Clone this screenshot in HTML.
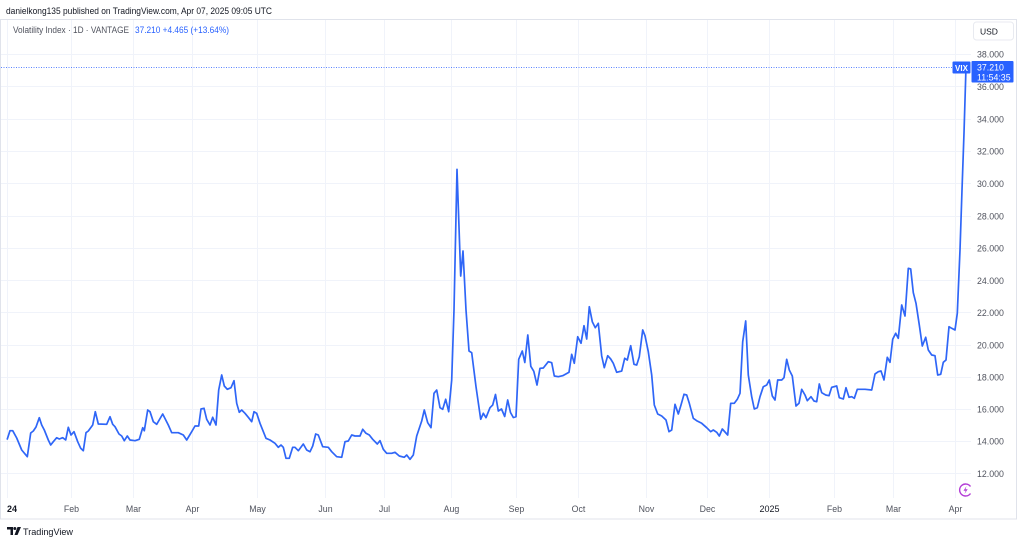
<!DOCTYPE html>
<html>
<head>
<meta charset="utf-8">
<style>
html,body{margin:0;padding:0;background:#fff;}
body{width:1024px;height:544px;overflow:hidden;}
svg{display:block;font-family:"Liberation Sans",sans-serif;}
</style>
</head>
<body>
<svg width="1024" height="544" viewBox="0 0 1024 544" xmlns="http://www.w3.org/2000/svg">
<rect x="0" y="0" width="1024" height="544" fill="#ffffff"/>
<!-- header -->
<text x="6" y="14" font-size="9.5" fill="#131722" textLength="266" lengthAdjust="spacingAndGlyphs">danielkong135 published on TradingView.com, Apr 07, 2025 09:05 UTC</text>
<!-- frame -->
<rect x="0.5" y="19.5" width="1016" height="499.5" fill="none" stroke="#e0e3eb" stroke-width="1"/>
<!-- horizontal grid -->
<g stroke="#f0f3fa" stroke-width="1">
<line x1="1" y1="54.5" x2="971" y2="54.5"/>
<line x1="1" y1="86.5" x2="971" y2="86.5"/>
<line x1="1" y1="119.5" x2="971" y2="119.5"/>
<line x1="1" y1="151.5" x2="971" y2="151.5"/>
<line x1="1" y1="183.5" x2="971" y2="183.5"/>
<line x1="1" y1="216.5" x2="971" y2="216.5"/>
<line x1="1" y1="248.5" x2="971" y2="248.5"/>
<line x1="1" y1="280.5" x2="971" y2="280.5"/>
<line x1="1" y1="312.5" x2="971" y2="312.5"/>
<line x1="1" y1="345.5" x2="971" y2="345.5"/>
<line x1="1" y1="377.5" x2="971" y2="377.5"/>
<line x1="1" y1="409.5" x2="971" y2="409.5"/>
<line x1="1" y1="441.5" x2="971" y2="441.5"/>
<line x1="1" y1="473.5" x2="971" y2="473.5"/>
</g>
<!-- vertical grid -->
<g stroke="#f0f3fa" stroke-width="1">
<line x1="7.5" y1="20" x2="7.5" y2="498"/>
<line x1="71.5" y1="20" x2="71.5" y2="498"/>
<line x1="133.5" y1="20" x2="133.5" y2="498"/>
<line x1="192.5" y1="20" x2="192.5" y2="498"/>
<line x1="257.5" y1="20" x2="257.5" y2="498"/>
<line x1="325.5" y1="20" x2="325.5" y2="498"/>
<line x1="384.5" y1="20" x2="384.5" y2="498"/>
<line x1="451.5" y1="20" x2="451.5" y2="498"/>
<line x1="516.5" y1="20" x2="516.5" y2="498"/>
<line x1="578.5" y1="20" x2="578.5" y2="498"/>
<line x1="646.5" y1="20" x2="646.5" y2="498"/>
<line x1="707.5" y1="20" x2="707.5" y2="498"/>
<line x1="769.5" y1="20" x2="769.5" y2="498"/>
<line x1="834.5" y1="20" x2="834.5" y2="498"/>
<line x1="893.5" y1="20" x2="893.5" y2="498"/>
<line x1="955.5" y1="20" x2="955.5" y2="498"/>
</g>
<!-- legend -->
<text x="13" y="33" font-size="9" fill="#50535e" textLength="116" lengthAdjust="spacingAndGlyphs">Volatility Index · 1D · VANTAGE</text>
<text x="135" y="33" font-size="9" fill="#2962ff" textLength="94" lengthAdjust="spacingAndGlyphs">37.210 +4.465 (+13.64%)</text>
<!-- USD box -->
<rect x="973.5" y="22" width="40" height="18" rx="3" fill="#fff" stroke="#e8eaf0"/>
<text x="980" y="34.5" font-size="8.5" fill="#131722">USD</text>
<!-- y labels -->
<g font-size="8.8" fill="#50535e">
<text x="977" y="57.5">38.000</text>
<text x="977" y="90">36.000</text>
<text x="977" y="122.5">34.000</text>
<text x="977" y="154.5">32.000</text>
<text x="977" y="187">30.000</text>
<text x="977" y="219.5">28.000</text>
<text x="977" y="251.5">26.000</text>
<text x="977" y="284">24.000</text>
<text x="977" y="316">22.000</text>
<text x="977" y="348.5">20.000</text>
<text x="977" y="380.5">18.000</text>
<text x="977" y="412.5">16.000</text>
<text x="977" y="444.5">14.000</text>
<text x="977" y="477">12.000</text>
</g>
<!-- x labels -->
<g font-size="8.8" fill="#50535e" text-anchor="middle">
<text x="71.5" y="512">Feb</text>
<text x="133.5" y="512">Mar</text>
<text x="192.5" y="512">Apr</text>
<text x="257.5" y="512">May</text>
<text x="325.5" y="512">Jun</text>
<text x="384.5" y="512">Jul</text>
<text x="451.5" y="512">Aug</text>
<text x="516.5" y="512">Sep</text>
<text x="578.5" y="512">Oct</text>
<text x="646.5" y="512">Nov</text>
<text x="707.5" y="512">Dec</text>
<text x="834.5" y="512">Feb</text>
<text x="893.5" y="512">Mar</text>
<text x="955.5" y="512">Apr</text>
</g>
<text x="7" y="512" font-size="9" fill="#131722" font-weight="bold">24</text>
<text x="769.5" y="512" font-size="9" fill="#131722" text-anchor="middle">2025</text>
<!-- dotted price line -->
<line x1="1" y1="67.5" x2="953" y2="67.5" stroke="#5b84ff" stroke-width="1" stroke-dasharray="1,1.5"/>
<!-- series -->
<polyline fill="none" stroke="#2f66f7" stroke-width="1.7" stroke-linejoin="round" stroke-linecap="round" points="
7.3,439 10,430.7 12.7,430.7 16.7,438 21.7,450 27.3,456.7 30.7,433 33.3,431 36,427 39.3,417.7 41.7,425 44.3,430 48.3,440 50.7,445 53.3,441.7 56.7,437.7 59.3,439 62.7,437.7 65.7,440 68.3,427.3 71,435 74,431.7 77.7,441.7 80.7,448.3 83.3,450.7 86,432.7 88.3,431 92.7,425 95.3,411.7 98.3,424 106.7,424.3 110,416.7 112.7,424.3 115,426.7 119,434 121.7,436 124.3,440.7 127.3,436 130,440 135,440.7 139.3,439.3 142.7,427.7 144.3,430.7 147.7,410 150,411.7 153.3,421.7 156.7,424.3 162.7,414 168.3,425 171.7,432.7 178.3,432.7 183.3,435 186.7,440 191.7,431.7 195,426 198.7,426 201,409 204,408.3 206.7,419.3 210,425 212.7,417.3 216,425 218.7,390 221.7,375 224.3,386 227.3,389.3 231,387.7 234,380.7 236.7,403.3 239.3,412.3 241.7,410
245,413.3 248.3,417.3 251.7,421.7 254,411.7 256.7,413.3 260,423.3 266,438.3 270,440 275,443.3 278.3,447.3 281,445 283.3,447.3 286,458.3 289.3,458.3 292.7,447.3 295,447.3 298.3,450.7 303.3,444 306.7,450 310,451.7 312.7,446 315.7,434 318.3,435 322.7,446.7 328.3,447.3 331.7,451.7 336.7,456.7 341.7,457.3 345,441.7 348.3,441 351.7,435 355,436 360,436 362.7,429.3 366,433.3 369.3,435 372.7,439.3 377.3,444 380,440.7 383.3,449.3 386.7,453.3 391.7,453.3 395,452.3 399.3,456 404.3,457.3 406.7,455 410,459.3 413.3,455 416.7,436 421.7,421 424.3,410 427.7,422.7 431,427.7 434,393.3 436.7,390 440,407.7 442.7,409.3 445.7,399.3 448.7,411.7
451.7,380 454,310 457,169.3 460.7,276 463,251 466,310 469,351 471.7,352.7 476,386.7 480.7,419.3 483.3,413.3 486,417.7 490,407.7 492.7,405 495.5,394.5 498.3,411 501.5,409 504.7,416.5 507.7,400 510.5,412.5 513.3,417.5 516,416.7 518.7,359.3 522.3,351 524.8,362.5 527.8,335 530.8,366.3 533.8,371.3 537,385 540,368.3 543.3,368 548.3,361.7 551.7,362.7 554.3,376 558.3,376.7 562.7,375.7 569,372.3 571.7,354.3 574.3,363.3 577.7,336.7 581,343.3 584,325.7 586.7,339 589.3,306.7 592.3,321.7 595.3,327.7 598.3,323.3 601.7,356 604.3,367.7 607.7,355.7 610.7,359 613.3,363.3 616.7,372.3 621.7,371 624.7,358.3 627.3,360 630.7,345.7 634,364.3 636.7,365 639.3,356.7 642.7,330 645,335.7 648.3,351.7 651.7,375 654.3,405 657.7,414 661.7,416 666,420 669,431.7 671.7,430 675,404.3 678.3,414 681,405 684,394.3 686.7,395 689.3,403.3 693.3,418.3 696.7,420.7 701.7,423.3 706.7,427.7 710.7,431.7 713.3,430 716.7,432.3 719.3,436 722.3,429 727.7,435 730.7,403.3 734.3,403.3 737.3,399.3 740,393.3 742.7,341.7 745.7,321 748.3,375 751.7,396.7 754.3,409 757.3,407.7 760,396.7 763.3,386.7 766.7,385 769.3,380 772.3,396 775,400 777.7,380 781.7,380 784,377.7 786.7,359.3 789.3,370 792.3,376 796,406 799,403.3 801.7,389.3 805,395 807.3,400.7 811,396.7 814,401 816.7,401.7 819.3,384 821.7,392.7 825.7,395 829,395.7 831.7,387.3 836.7,386 839.3,397.7 843.3,399 846,387.7 849,397.3 851.7,396.7 854.3,398.3 857.3,389.3 860,389.3 865,389.3 871.7,390 875,374 878.3,371.7 881,371 884,380 887.3,357.3 890,362.3 892.7,339.3 895.7,333.3 898.3,338.3 901.7,305 905,316 908.3,268.3 910.7,269 913.3,292.7 916,303.3 919.3,325 922.3,346 925.7,337.3 928.3,350 931.7,355 935,355.7 937.7,375 940.7,374.3 943.3,362.3 946,360 949,326.7 951.7,328.3 955,330 957.3,313.3 960,250 962,190 964,133 966,67"/>
<!-- VIX label -->
<rect x="952.5" y="61.5" width="18" height="12" rx="1" fill="#2962ff"/>
<text x="961.5" y="70.8" font-size="8" font-weight="bold" fill="#fff" text-anchor="middle">VIX</text>
<!-- price label -->
<rect x="971.5" y="61" width="42" height="21.5" rx="1" fill="#2962ff"/>
<text x="977" y="70.5" font-size="8.8" fill="#fff">37.210</text>
<text x="977" y="80.5" font-size="8.8" fill="#fff">11:54:35</text>
<!-- purple icon -->
<g transform="translate(965.5,490)">
<path d="M5,-3.5 A6,6 0 1 0 5,3.5" fill="none" stroke="#b33ed6" stroke-width="1.4"/>
<path d="M1,-4 L-2,0.8 L0.2,0.8 L-1,4 L2.2,-0.8 L0,-0.8 Z" fill="#b33ed6"/>
</g>
<!-- TradingView logo -->
<g transform="translate(7,527)" fill="#131722">
<path d="M0,0 H6 V8 H3.5 V2.5 H0 Z"/>
<circle cx="7.8" cy="1.5" r="1.5"/>
<path d="M10.5,0 H14 L10.5,8 H7.5 Z"/>
</g>
<text x="23" y="535" font-size="9.5" fill="#131722" textLength="50" lengthAdjust="spacingAndGlyphs">TradingView</text>
</svg>
</body>
</html>
